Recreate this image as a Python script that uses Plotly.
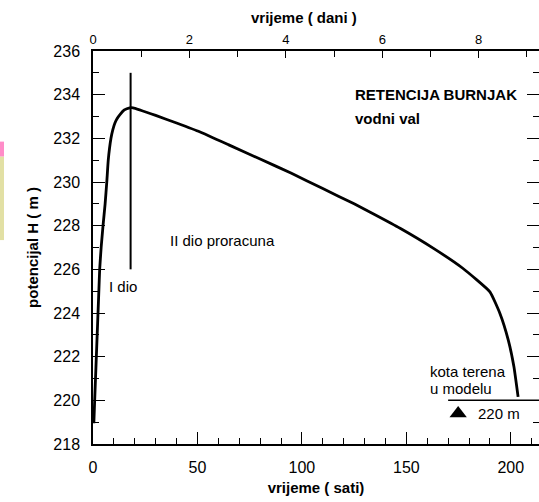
import plotly.graph_objects as go

# ---- data ----
hours = [0.4, 0.8, 1.2, 1.6, 2.0, 2.4, 2.8, 3.2, 3.9, 4.8, 5.8, 6.6, 7.3, 8.6, 9.5, 10.5, 11.5, 13.0, 15.0, 17.6,
         19.2, 30, 40, 51, 65, 80, 95, 110, 125, 135, 147, 163, 177, 190, 194.8, 198.8, 201.5, 203.5]
head = [218.95, 220.0, 221.0, 222.0, 223.0, 224.0, 225.0, 226.0, 227.0, 228.0, 229.0, 230.0, 231.0, 232.0,
        232.4, 232.7, 232.9, 233.1, 233.3, 233.4,
        233.4, 233.05, 232.7, 232.3, 231.7, 231.05, 230.4, 229.7, 229.0, 228.5, 227.88, 226.96,
        226.05, 224.97, 223.98, 222.76, 221.54, 220.16]

split_x = [18, 18]          # boundary between "I dio" and "II dio"
split_y = [226, 235]

terrain_level = 220          # kota terena u modelu
marker_x = [174.8]
marker_y = [219.4]

x_range_hours = [0, 213.5]
x_range_days = [0, 9.25]
y_range = [218, 236]

FONT = "Arial, Liberation Sans, sans-serif"

fig = go.Figure()

fig.add_trace(go.Scatter(x=hours, y=head, mode="lines", line_shape="spline",
                         line=dict(color="black", width=2.8, smoothing=0.4), showlegend=False))
fig.add_trace(go.Scatter(x=split_x, y=split_y, mode="lines",
                         line=dict(color="black", width=2), showlegend=False))
fig.add_trace(go.Scatter(x=marker_x, y=marker_y, mode="markers",
                         marker=dict(symbol="triangle-up", size=15, color="black"), showlegend=False))
# dummy trace for the top (days) axis
fig.add_trace(go.Scatter(x=x_range_days, y=[None, None], xaxis="x2", mode="lines", showlegend=False))

fig.add_shape(type="line", xref="x", yref="y", x0=170, x1=x_range_hours[1], y0=terrain_level, y1=terrain_level,
              line=dict(color="black", width=1.5))

# colored strip at left edge of the picture
fig.add_shape(type="rect", xref="paper", yref="y", x0=-0.2085, x1=-0.1996, y0=231.16, y1=231.85,
              fillcolor="#ff8cc8", line=dict(width=0))
fig.add_shape(type="rect", xref="paper", yref="y", x0=-0.2085, x1=-0.1996, y0=227.34, y1=231.16,
              fillcolor="#e2e0a4", line=dict(width=0))

ann = dict(showarrow=False, font=dict(family=FONT, size=15, color="black"), xanchor="left", yanchor="middle")
fig.add_annotation(x=124.4, y=234.0, text="<b>RETENCIJA BURNJAK</b>", **ann)
fig.add_annotation(x=124.4, y=232.9, text="<b>vodni val</b>", **ann)
fig.add_annotation(x=35.9, y=227.34, text="II dio proracuna", **ann)
fig.add_annotation(x=6.9, y=225.23, text="I dio", **ann)
fig.add_annotation(x=160.4, y=221.31, text="kota terena", **ann)
fig.add_annotation(x=160.4, y=220.55, text="u modelu", **ann)
fig.add_annotation(x=183.3, y=219.4, text="220 m", **ann)

title_font = dict(family=FONT, size=15, color="black")
fig.add_annotation(x=0.473, y=1.0865, xref="paper", yref="paper", text="<b>vrijeme ( dani )</b>",
                   showarrow=False, font=title_font, xanchor="center", yanchor="middle")

fig.update_layout(
    width=539, height=502,
    margin=dict(l=93, r=0, t=51, b=58),
    plot_bgcolor="white", paper_bgcolor="white",
    font=dict(family=FONT, color="black"),
    xaxis=dict(range=x_range_hours, tickvals=[0, 50, 100, 150, 200], ticks="inside", ticklen=12,
               tickcolor="black", showline=True, linecolor="black", linewidth=1.5, showgrid=False,
               zeroline=False, tickfont=dict(size=16), ticklabelstandoff=8,
               minor=dict(dtick=10, ticks="inside", ticklen=6, tickcolor="black"),
               title=dict(text="<b>vrijeme ( sati)</b>", font=title_font, standoff=8)),
    xaxis2=dict(range=x_range_days, overlaying="x", side="top", tickvals=[0, 2, 4, 6, 8],
                ticks="inside", ticklen=7, tickcolor="black", showline=True, linecolor="black",
                linewidth=1.5, showgrid=False, zeroline=False, tickfont=dict(size=13),
                minor=dict(dtick=1, ticks="inside", ticklen=6, tickcolor="black")),
    yaxis=dict(range=y_range, dtick=2, ticks="inside", ticklen=12, tickcolor="black", showline=True,
               linecolor="black", linewidth=1.5, showgrid=False, zeroline=False, tickfont=dict(size=16),
               ticklabelstandoff=8,
               minor=dict(dtick=1, ticks="inside", ticklen=6, tickcolor="black"),
               title=dict(text="<b>potencijal H ( m )</b>", font=title_font, standoff=11)),
    yaxis2=dict(range=y_range, overlaying="y", side="right", dtick=2, ticks="inside", ticklen=12,
                tickcolor="black", showline=False, showgrid=False, zeroline=False, showticklabels=False,
                minor=dict(dtick=1, ticks="inside", ticklen=6, tickcolor="black")),
)
fig.add_trace(go.Scatter(x=[None], y=[None], yaxis="y2", showlegend=False))

fig.write_html("out.html")
